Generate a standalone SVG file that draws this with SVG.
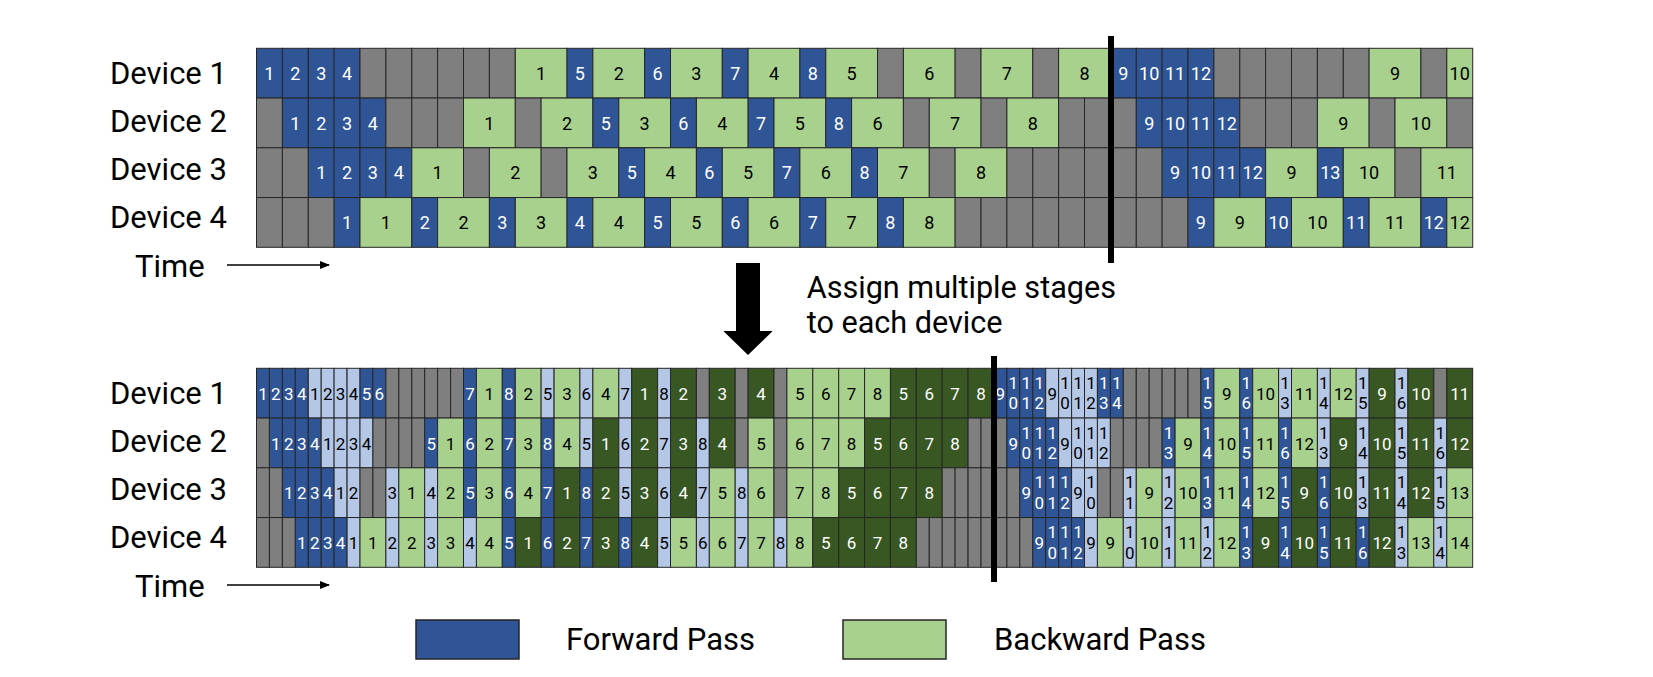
<svg xmlns="http://www.w3.org/2000/svg" width="1653" height="677" viewBox="0 0 1653 677">
<style>
text{font-family:Roboto,"Liberation Sans",sans-serif;fill:#000}
.lbl{font-size:31px}
.cap{font-size:30.6px}
.c rect{stroke:#262626;stroke-width:1}
.c text{text-anchor:middle}
.t1 text{font-size:18px}
.t2 text{font-size:17px}
.f{fill:#2F5597}
.lf{fill:#B4C7E7}
.b{fill:#A9D18E}
.lb{fill:#385723}
.g{fill:#7F7F7F}
.c text.w{fill:#fff}
.bar{fill:#000}
</style>
<defs>
<marker id="ah" markerWidth="10" markerHeight="8" refX="9" refY="4" orient="auto" markerUnits="userSpaceOnUse">
<path d="M0,0 L10,4 L0,8 Z" fill="#000"/>
</marker>
</defs>

<g id="labels-top">
<text class="lbl" x="110" y="84.3">Device 1</text>
<text class="lbl" x="110" y="132">Device 2</text>
<text class="lbl" x="110" y="180">Device 3</text>
<text class="lbl" x="110" y="228.3">Device 4</text>
<text class="lbl" x="135" y="277">Time</text>
</g>
<g id="labels-bottom">
<text class="lbl" x="110" y="404.3">Device 1</text>
<text class="lbl" x="110" y="452">Device 2</text>
<text class="lbl" x="110" y="500">Device 3</text>
<text class="lbl" x="110" y="548.3">Device 4</text>
<text class="lbl" x="135" y="597">Time</text>
</g>

<g id="top-chart" class="c t1">
<g id="top-d1" transform="translate(0,48.3)">
<rect class="f" x="256.5" width="25.9" height="49.75"/><text class="w" x="269.4" y="31.5">1</text>
<rect class="f" x="282.4" width="25.9" height="49.75"/><text class="w" x="295.3" y="31.5">2</text>
<rect class="f" x="308.3" width="25.9" height="49.75"/><text class="w" x="321.2" y="31.5">3</text>
<rect class="f" x="334.1" width="25.9" height="49.75"/><text class="w" x="347.1" y="31.5">4</text>
<rect class="g" x="360" width="25.9" height="49.75"/>
<rect class="g" x="385.9" width="25.9" height="49.75"/>
<rect class="g" x="411.8" width="25.9" height="49.75"/>
<rect class="g" x="437.6" width="25.9" height="49.75"/>
<rect class="g" x="463.5" width="25.9" height="49.75"/>
<rect class="g" x="489.4" width="25.9" height="49.75"/>
<rect class="b" x="515.3" width="51.8" height="49.75"/><text x="541.1" y="31.5">1</text>
<rect class="f" x="567" width="25.9" height="49.75"/><text class="w" x="579.9" y="31.5">5</text>
<rect class="b" x="592.9" width="51.8" height="49.75"/><text x="618.8" y="31.5">2</text>
<rect class="f" x="644.6" width="25.9" height="49.75"/><text class="w" x="657.6" y="31.5">6</text>
<rect class="b" x="670.5" width="51.8" height="49.75"/><text x="696.4" y="31.5">3</text>
<rect class="f" x="722.3" width="25.9" height="49.75"/><text class="w" x="735.2" y="31.5">7</text>
<rect class="b" x="748.1" width="51.8" height="49.75"/><text x="774" y="31.5">4</text>
<rect class="f" x="799.9" width="25.9" height="49.75"/><text class="w" x="812.8" y="31.5">8</text>
<rect class="b" x="825.8" width="51.8" height="49.75"/><text x="851.6" y="31.5">5</text>
<rect class="g" x="877.5" width="25.9" height="49.75"/>
<rect class="b" x="903.4" width="51.8" height="49.75"/><text x="929.3" y="31.5">6</text>
<rect class="g" x="955.1" width="25.9" height="49.75"/>
<rect class="b" x="981" width="51.8" height="49.75"/><text x="1006.9" y="31.5">7</text>
<rect class="g" x="1032.8" width="25.9" height="49.75"/>
<rect class="b" x="1058.6" width="51.8" height="49.75"/><text x="1084.5" y="31.5">8</text>
<rect class="f" x="1110.4" width="25.9" height="49.75"/><text class="w" x="1123.3" y="31.5">9</text>
<rect class="f" x="1136.3" width="25.9" height="49.75"/><text class="w" x="1149.2" y="31.5">10</text>
<rect class="f" x="1162.1" width="25.9" height="49.75"/><text class="w" x="1175.1" y="31.5">11</text>
<rect class="f" x="1188" width="25.9" height="49.75"/><text class="w" x="1200.9" y="31.5">12</text>
<rect class="g" x="1213.9" width="25.9" height="49.75"/>
<rect class="g" x="1239.8" width="25.9" height="49.75"/>
<rect class="g" x="1265.6" width="25.9" height="49.75"/>
<rect class="g" x="1291.5" width="25.9" height="49.75"/>
<rect class="g" x="1317.4" width="25.9" height="49.75"/>
<rect class="g" x="1343.3" width="25.9" height="49.75"/>
<rect class="b" x="1369.1" width="51.8" height="49.75"/><text x="1395" y="31.5">9</text>
<rect class="g" x="1420.9" width="25.9" height="49.75"/>
<rect class="b" x="1446.8" width="25.9" height="49.75"/><text x="1459.7" y="31.5">10</text>
</g>
<g id="top-d2" transform="translate(0,98.05)">
<rect class="g" x="256.5" width="25.9" height="49.75"/>
<rect class="f" x="282.4" width="25.9" height="49.75"/><text class="w" x="295.3" y="31.5">1</text>
<rect class="f" x="308.3" width="25.9" height="49.75"/><text class="w" x="321.2" y="31.5">2</text>
<rect class="f" x="334.1" width="25.9" height="49.75"/><text class="w" x="347.1" y="31.5">3</text>
<rect class="f" x="360" width="25.9" height="49.75"/><text class="w" x="372.9" y="31.5">4</text>
<rect class="g" x="385.9" width="25.9" height="49.75"/>
<rect class="g" x="411.8" width="25.9" height="49.75"/>
<rect class="g" x="437.6" width="25.9" height="49.75"/>
<rect class="b" x="463.5" width="51.8" height="49.75"/><text x="489.4" y="31.5">1</text>
<rect class="g" x="515.3" width="25.9" height="49.75"/>
<rect class="b" x="541.1" width="51.8" height="49.75"/><text x="567" y="31.5">2</text>
<rect class="f" x="592.9" width="25.9" height="49.75"/><text class="w" x="605.8" y="31.5">5</text>
<rect class="b" x="618.8" width="51.8" height="49.75"/><text x="644.6" y="31.5">3</text>
<rect class="f" x="670.5" width="25.9" height="49.75"/><text class="w" x="683.4" y="31.5">6</text>
<rect class="b" x="696.4" width="51.8" height="49.75"/><text x="722.3" y="31.5">4</text>
<rect class="f" x="748.1" width="25.9" height="49.75"/><text class="w" x="761.1" y="31.5">7</text>
<rect class="b" x="774" width="51.8" height="49.75"/><text x="799.9" y="31.5">5</text>
<rect class="f" x="825.8" width="25.9" height="49.75"/><text class="w" x="838.7" y="31.5">8</text>
<rect class="b" x="851.6" width="51.8" height="49.75"/><text x="877.5" y="31.5">6</text>
<rect class="g" x="903.4" width="25.9" height="49.75"/>
<rect class="b" x="929.3" width="51.8" height="49.75"/><text x="955.1" y="31.5">7</text>
<rect class="g" x="981" width="25.9" height="49.75"/>
<rect class="b" x="1006.9" width="51.8" height="49.75"/><text x="1032.8" y="31.5">8</text>
<rect class="g" x="1058.6" width="25.9" height="49.75"/>
<rect class="g" x="1084.5" width="25.9" height="49.75"/>
<rect class="g" x="1110.4" width="25.9" height="49.75"/>
<rect class="f" x="1136.3" width="25.9" height="49.75"/><text class="w" x="1149.2" y="31.5">9</text>
<rect class="f" x="1162.1" width="25.9" height="49.75"/><text class="w" x="1175.1" y="31.5">10</text>
<rect class="f" x="1188" width="25.9" height="49.75"/><text class="w" x="1200.9" y="31.5">11</text>
<rect class="f" x="1213.9" width="25.9" height="49.75"/><text class="w" x="1226.8" y="31.5">12</text>
<rect class="g" x="1239.8" width="25.9" height="49.75"/>
<rect class="g" x="1265.6" width="25.9" height="49.75"/>
<rect class="g" x="1291.5" width="25.9" height="49.75"/>
<rect class="b" x="1317.4" width="51.8" height="49.75"/><text x="1343.3" y="31.5">9</text>
<rect class="g" x="1369.1" width="25.9" height="49.75"/>
<rect class="b" x="1395" width="51.8" height="49.75"/><text x="1420.9" y="31.5">10</text>
<rect class="g" x="1446.8" width="25.9" height="49.75"/>
</g>
<g id="top-d3" transform="translate(0,147.8)">
<rect class="g" x="256.5" width="25.9" height="49.75"/>
<rect class="g" x="282.4" width="25.9" height="49.75"/>
<rect class="f" x="308.3" width="25.9" height="49.75"/><text class="w" x="321.2" y="31.5">1</text>
<rect class="f" x="334.1" width="25.9" height="49.75"/><text class="w" x="347.1" y="31.5">2</text>
<rect class="f" x="360" width="25.9" height="49.75"/><text class="w" x="372.9" y="31.5">3</text>
<rect class="f" x="385.9" width="25.9" height="49.75"/><text class="w" x="398.8" y="31.5">4</text>
<rect class="b" x="411.8" width="51.8" height="49.75"/><text x="437.6" y="31.5">1</text>
<rect class="g" x="463.5" width="25.9" height="49.75"/>
<rect class="b" x="489.4" width="51.8" height="49.75"/><text x="515.3" y="31.5">2</text>
<rect class="g" x="541.1" width="25.9" height="49.75"/>
<rect class="b" x="567" width="51.8" height="49.75"/><text x="592.9" y="31.5">3</text>
<rect class="f" x="618.8" width="25.9" height="49.75"/><text class="w" x="631.7" y="31.5">5</text>
<rect class="b" x="644.6" width="51.8" height="49.75"/><text x="670.5" y="31.5">4</text>
<rect class="f" x="696.4" width="25.9" height="49.75"/><text class="w" x="709.3" y="31.5">6</text>
<rect class="b" x="722.3" width="51.8" height="49.75"/><text x="748.1" y="31.5">5</text>
<rect class="f" x="774" width="25.9" height="49.75"/><text class="w" x="786.9" y="31.5">7</text>
<rect class="b" x="799.9" width="51.8" height="49.75"/><text x="825.8" y="31.5">6</text>
<rect class="f" x="851.6" width="25.9" height="49.75"/><text class="w" x="864.6" y="31.5">8</text>
<rect class="b" x="877.5" width="51.8" height="49.75"/><text x="903.4" y="31.5">7</text>
<rect class="g" x="929.3" width="25.9" height="49.75"/>
<rect class="b" x="955.1" width="51.8" height="49.75"/><text x="981" y="31.5">8</text>
<rect class="g" x="1006.9" width="25.9" height="49.75"/>
<rect class="g" x="1032.8" width="25.9" height="49.75"/>
<rect class="g" x="1058.6" width="25.9" height="49.75"/>
<rect class="g" x="1084.5" width="25.9" height="49.75"/>
<rect class="g" x="1110.4" width="25.9" height="49.75"/>
<rect class="g" x="1136.3" width="25.9" height="49.75"/>
<rect class="f" x="1162.1" width="25.9" height="49.75"/><text class="w" x="1175.1" y="31.5">9</text>
<rect class="f" x="1188" width="25.9" height="49.75"/><text class="w" x="1200.9" y="31.5">10</text>
<rect class="f" x="1213.9" width="25.9" height="49.75"/><text class="w" x="1226.8" y="31.5">11</text>
<rect class="f" x="1239.8" width="25.9" height="49.75"/><text class="w" x="1252.7" y="31.5">12</text>
<rect class="b" x="1265.6" width="51.8" height="49.75"/><text x="1291.5" y="31.5">9</text>
<rect class="f" x="1317.4" width="25.9" height="49.75"/><text class="w" x="1330.3" y="31.5">13</text>
<rect class="b" x="1343.3" width="51.8" height="49.75"/><text x="1369.1" y="31.5">10</text>
<rect class="g" x="1395" width="25.9" height="49.75"/>
<rect class="b" x="1420.9" width="51.8" height="49.75"/><text x="1446.8" y="31.5">11</text>
</g>
<g id="top-d4" transform="translate(0,197.55)">
<rect class="g" x="256.5" width="25.9" height="49.75"/>
<rect class="g" x="282.4" width="25.9" height="49.75"/>
<rect class="g" x="308.3" width="25.9" height="49.75"/>
<rect class="f" x="334.1" width="25.9" height="49.75"/><text class="w" x="347.1" y="31.5">1</text>
<rect class="b" x="360" width="51.8" height="49.75"/><text x="385.9" y="31.5">1</text>
<rect class="f" x="411.8" width="25.9" height="49.75"/><text class="w" x="424.7" y="31.5">2</text>
<rect class="b" x="437.6" width="51.8" height="49.75"/><text x="463.5" y="31.5">2</text>
<rect class="f" x="489.4" width="25.9" height="49.75"/><text class="w" x="502.3" y="31.5">3</text>
<rect class="b" x="515.3" width="51.8" height="49.75"/><text x="541.1" y="31.5">3</text>
<rect class="f" x="567" width="25.9" height="49.75"/><text class="w" x="579.9" y="31.5">4</text>
<rect class="b" x="592.9" width="51.8" height="49.75"/><text x="618.8" y="31.5">4</text>
<rect class="f" x="644.6" width="25.9" height="49.75"/><text class="w" x="657.6" y="31.5">5</text>
<rect class="b" x="670.5" width="51.8" height="49.75"/><text x="696.4" y="31.5">5</text>
<rect class="f" x="722.3" width="25.9" height="49.75"/><text class="w" x="735.2" y="31.5">6</text>
<rect class="b" x="748.1" width="51.8" height="49.75"/><text x="774" y="31.5">6</text>
<rect class="f" x="799.9" width="25.9" height="49.75"/><text class="w" x="812.8" y="31.5">7</text>
<rect class="b" x="825.8" width="51.8" height="49.75"/><text x="851.6" y="31.5">7</text>
<rect class="f" x="877.5" width="25.9" height="49.75"/><text class="w" x="890.4" y="31.5">8</text>
<rect class="b" x="903.4" width="51.8" height="49.75"/><text x="929.3" y="31.5">8</text>
<rect class="g" x="955.1" width="25.9" height="49.75"/>
<rect class="g" x="981" width="25.9" height="49.75"/>
<rect class="g" x="1006.9" width="25.9" height="49.75"/>
<rect class="g" x="1032.8" width="25.9" height="49.75"/>
<rect class="g" x="1058.6" width="25.9" height="49.75"/>
<rect class="g" x="1084.5" width="25.9" height="49.75"/>
<rect class="g" x="1110.4" width="25.9" height="49.75"/>
<rect class="g" x="1136.3" width="25.9" height="49.75"/>
<rect class="g" x="1162.1" width="25.9" height="49.75"/>
<rect class="f" x="1188" width="25.9" height="49.75"/><text class="w" x="1200.9" y="31.5">9</text>
<rect class="b" x="1213.9" width="51.8" height="49.75"/><text x="1239.8" y="31.5">9</text>
<rect class="f" x="1265.6" width="25.9" height="49.75"/><text class="w" x="1278.6" y="31.5">10</text>
<rect class="b" x="1291.5" width="51.8" height="49.75"/><text x="1317.4" y="31.5">10</text>
<rect class="f" x="1343.3" width="25.9" height="49.75"/><text class="w" x="1356.2" y="31.5">11</text>
<rect class="b" x="1369.1" width="51.8" height="49.75"/><text x="1395" y="31.5">11</text>
<rect class="f" x="1420.9" width="25.9" height="49.75"/><text class="w" x="1433.8" y="31.5">12</text>
<rect class="b" x="1446.8" width="25.9" height="49.75"/><text x="1459.7" y="31.5">12</text>
</g>
</g>

<g id="bottom-chart" class="c t2">
<g id="bot-d1" transform="translate(0,368.3)">
<rect class="f" x="256.5" width="12.94" height="49.75"/><text class="w" x="263" y="31.7">1</text>
<rect class="f" x="269.4" width="12.94" height="49.75"/><text class="w" x="275.9" y="31.7">2</text>
<rect class="f" x="282.4" width="12.94" height="49.75"/><text class="w" x="288.8" y="31.7">3</text>
<rect class="f" x="295.3" width="12.94" height="49.75"/><text class="w" x="301.8" y="31.7">4</text>
<rect class="lf" x="308.3" width="12.94" height="49.75"/><text x="314.7" y="31.7">1</text>
<rect class="lf" x="321.2" width="12.94" height="49.75"/><text x="327.7" y="31.7">2</text>
<rect class="lf" x="334.1" width="12.94" height="49.75"/><text x="340.6" y="31.7">3</text>
<rect class="lf" x="347.1" width="12.94" height="49.75"/><text x="353.5" y="31.7">4</text>
<rect class="f" x="360" width="12.94" height="49.75"/><text class="w" x="366.5" y="31.7">5</text>
<rect class="f" x="372.9" width="12.94" height="49.75"/><text class="w" x="379.4" y="31.7">6</text>
<rect class="g" x="385.9" width="12.94" height="49.75"/>
<rect class="g" x="398.8" width="12.94" height="49.75"/>
<rect class="g" x="411.8" width="12.94" height="49.75"/>
<rect class="g" x="424.7" width="12.94" height="49.75"/>
<rect class="g" x="437.6" width="12.94" height="49.75"/>
<rect class="g" x="450.6" width="12.94" height="49.75"/>
<rect class="f" x="463.5" width="12.94" height="49.75"/><text class="w" x="470" y="31.7">7</text>
<rect class="b" x="476.4" width="25.88" height="49.75"/><text x="489.4" y="31.7">1</text>
<rect class="f" x="502.3" width="12.94" height="49.75"/><text class="w" x="508.8" y="31.7">8</text>
<rect class="b" x="515.3" width="25.88" height="49.75"/><text x="528.2" y="31.7">2</text>
<rect class="lf" x="541.1" width="12.94" height="49.75"/><text x="547.6" y="31.7">5</text>
<rect class="b" x="554.1" width="25.88" height="49.75"/><text x="567" y="31.7">3</text>
<rect class="lf" x="579.9" width="12.94" height="49.75"/><text x="586.4" y="31.7">6</text>
<rect class="b" x="592.9" width="25.88" height="49.75"/><text x="605.8" y="31.7">4</text>
<rect class="lf" x="618.8" width="12.94" height="49.75"/><text x="625.2" y="31.7">7</text>
<rect class="lb" x="631.7" width="25.88" height="49.75"/><text class="w" x="644.6" y="31.7">1</text>
<rect class="lf" x="657.6" width="12.94" height="49.75"/><text x="664" y="31.7">8</text>
<rect class="lb" x="670.5" width="25.88" height="49.75"/><text class="w" x="683.4" y="31.7">2</text>
<rect class="g" x="696.4" width="12.94" height="49.75"/>
<rect class="lb" x="709.3" width="25.88" height="49.75"/><text class="w" x="722.3" y="31.7">3</text>
<rect class="g" x="735.2" width="12.94" height="49.75"/>
<rect class="lb" x="748.1" width="25.88" height="49.75"/><text class="w" x="761.1" y="31.7">4</text>
<rect class="g" x="774" width="12.94" height="49.75"/>
<rect class="b" x="786.9" width="25.88" height="49.75"/><text x="799.9" y="31.7">5</text>
<rect class="b" x="812.8" width="25.88" height="49.75"/><text x="825.8" y="31.7">6</text>
<rect class="b" x="838.7" width="25.88" height="49.75"/><text x="851.6" y="31.7">7</text>
<rect class="b" x="864.6" width="25.88" height="49.75"/><text x="877.5" y="31.7">8</text>
<rect class="lb" x="890.4" width="25.88" height="49.75"/><text class="w" x="903.4" y="31.7">5</text>
<rect class="lb" x="916.3" width="25.88" height="49.75"/><text class="w" x="929.3" y="31.7">6</text>
<rect class="lb" x="942.2" width="25.88" height="49.75"/><text class="w" x="955.1" y="31.7">7</text>
<rect class="lb" x="968.1" width="25.88" height="49.75"/><text class="w" x="981" y="31.7">8</text>
<rect class="f" x="993.9" width="12.94" height="49.75"/><text class="w" x="1000.4" y="31.7">9</text>
<rect class="f" x="1006.9" width="12.94" height="49.75"/><text class="w" x="1013.3" y="20.5">1</text><text class="w" x="1013.3" y="41.2">0</text>
<rect class="f" x="1019.8" width="12.94" height="49.75"/><text class="w" x="1026.3" y="20.5">1</text><text class="w" x="1026.3" y="41.2">1</text>
<rect class="f" x="1032.8" width="12.94" height="49.75"/><text class="w" x="1039.2" y="20.5">1</text><text class="w" x="1039.2" y="41.2">2</text>
<rect class="lf" x="1045.7" width="12.94" height="49.75"/><text x="1052.2" y="31.7">9</text>
<rect class="lf" x="1058.6" width="12.94" height="49.75"/><text x="1065.1" y="20.5">1</text><text x="1065.1" y="41.2">0</text>
<rect class="lf" x="1071.6" width="12.94" height="49.75"/><text x="1078" y="20.5">1</text><text x="1078" y="41.2">1</text>
<rect class="lf" x="1084.5" width="12.94" height="49.75"/><text x="1091" y="20.5">1</text><text x="1091" y="41.2">2</text>
<rect class="f" x="1097.4" width="12.94" height="49.75"/><text class="w" x="1103.9" y="20.5">1</text><text class="w" x="1103.9" y="41.2">3</text>
<rect class="f" x="1110.4" width="12.94" height="49.75"/><text class="w" x="1116.8" y="20.5">1</text><text class="w" x="1116.8" y="41.2">4</text>
<rect class="g" x="1123.3" width="12.94" height="49.75"/>
<rect class="g" x="1136.3" width="12.94" height="49.75"/>
<rect class="g" x="1149.2" width="12.94" height="49.75"/>
<rect class="g" x="1162.1" width="12.94" height="49.75"/>
<rect class="g" x="1175.1" width="12.94" height="49.75"/>
<rect class="g" x="1188" width="12.94" height="49.75"/>
<rect class="f" x="1200.9" width="12.94" height="49.75"/><text class="w" x="1207.4" y="20.5">1</text><text class="w" x="1207.4" y="41.2">5</text>
<rect class="b" x="1213.9" width="25.88" height="49.75"/><text x="1226.8" y="31.7">9</text>
<rect class="f" x="1239.8" width="12.94" height="49.75"/><text class="w" x="1246.2" y="20.5">1</text><text class="w" x="1246.2" y="41.2">6</text>
<rect class="b" x="1252.7" width="25.88" height="49.75"/><text x="1265.6" y="31.7">10</text>
<rect class="lf" x="1278.6" width="12.94" height="49.75"/><text x="1285" y="20.5">1</text><text x="1285" y="41.2">3</text>
<rect class="b" x="1291.5" width="25.88" height="49.75"/><text x="1304.4" y="31.7">11</text>
<rect class="lf" x="1317.4" width="12.94" height="49.75"/><text x="1323.8" y="20.5">1</text><text x="1323.8" y="41.2">4</text>
<rect class="b" x="1330.3" width="25.88" height="49.75"/><text x="1343.3" y="31.7">12</text>
<rect class="lf" x="1356.2" width="12.94" height="49.75"/><text x="1362.7" y="20.5">1</text><text x="1362.7" y="41.2">5</text>
<rect class="lb" x="1369.1" width="25.88" height="49.75"/><text class="w" x="1382.1" y="31.7">9</text>
<rect class="lf" x="1395" width="12.94" height="49.75"/><text x="1401.5" y="20.5">1</text><text x="1401.5" y="41.2">6</text>
<rect class="lb" x="1407.9" width="25.88" height="49.75"/><text class="w" x="1420.9" y="31.7">10</text>
<rect class="g" x="1433.8" width="12.94" height="49.75"/>
<rect class="lb" x="1446.8" width="25.88" height="49.75"/><text class="w" x="1459.7" y="31.7">11</text>
</g>
<g id="bot-d2" transform="translate(0,418.05)">
<rect class="g" x="256.5" width="12.94" height="49.75"/>
<rect class="f" x="269.4" width="12.94" height="49.75"/><text class="w" x="275.9" y="31.7">1</text>
<rect class="f" x="282.4" width="12.94" height="49.75"/><text class="w" x="288.8" y="31.7">2</text>
<rect class="f" x="295.3" width="12.94" height="49.75"/><text class="w" x="301.8" y="31.7">3</text>
<rect class="f" x="308.3" width="12.94" height="49.75"/><text class="w" x="314.7" y="31.7">4</text>
<rect class="lf" x="321.2" width="12.94" height="49.75"/><text x="327.7" y="31.7">1</text>
<rect class="lf" x="334.1" width="12.94" height="49.75"/><text x="340.6" y="31.7">2</text>
<rect class="lf" x="347.1" width="12.94" height="49.75"/><text x="353.5" y="31.7">3</text>
<rect class="lf" x="360" width="12.94" height="49.75"/><text x="366.5" y="31.7">4</text>
<rect class="g" x="372.9" width="12.94" height="49.75"/>
<rect class="g" x="385.9" width="12.94" height="49.75"/>
<rect class="g" x="398.8" width="12.94" height="49.75"/>
<rect class="g" x="411.8" width="12.94" height="49.75"/>
<rect class="f" x="424.7" width="12.94" height="49.75"/><text class="w" x="431.2" y="31.7">5</text>
<rect class="b" x="437.6" width="25.88" height="49.75"/><text x="450.6" y="31.7">1</text>
<rect class="f" x="463.5" width="12.94" height="49.75"/><text class="w" x="470" y="31.7">6</text>
<rect class="b" x="476.4" width="25.88" height="49.75"/><text x="489.4" y="31.7">2</text>
<rect class="f" x="502.3" width="12.94" height="49.75"/><text class="w" x="508.8" y="31.7">7</text>
<rect class="b" x="515.3" width="25.88" height="49.75"/><text x="528.2" y="31.7">3</text>
<rect class="f" x="541.1" width="12.94" height="49.75"/><text class="w" x="547.6" y="31.7">8</text>
<rect class="b" x="554.1" width="25.88" height="49.75"/><text x="567" y="31.7">4</text>
<rect class="lf" x="579.9" width="12.94" height="49.75"/><text x="586.4" y="31.7">5</text>
<rect class="lb" x="592.9" width="25.88" height="49.75"/><text class="w" x="605.8" y="31.7">1</text>
<rect class="lf" x="618.8" width="12.94" height="49.75"/><text x="625.2" y="31.7">6</text>
<rect class="lb" x="631.7" width="25.88" height="49.75"/><text class="w" x="644.6" y="31.7">2</text>
<rect class="lf" x="657.6" width="12.94" height="49.75"/><text x="664" y="31.7">7</text>
<rect class="lb" x="670.5" width="25.88" height="49.75"/><text class="w" x="683.4" y="31.7">3</text>
<rect class="lf" x="696.4" width="12.94" height="49.75"/><text x="702.8" y="31.7">8</text>
<rect class="lb" x="709.3" width="25.88" height="49.75"/><text class="w" x="722.3" y="31.7">4</text>
<rect class="g" x="735.2" width="12.94" height="49.75"/>
<rect class="b" x="748.1" width="25.88" height="49.75"/><text x="761.1" y="31.7">5</text>
<rect class="g" x="774" width="12.94" height="49.75"/>
<rect class="b" x="786.9" width="25.88" height="49.75"/><text x="799.9" y="31.7">6</text>
<rect class="b" x="812.8" width="25.88" height="49.75"/><text x="825.8" y="31.7">7</text>
<rect class="b" x="838.7" width="25.88" height="49.75"/><text x="851.6" y="31.7">8</text>
<rect class="lb" x="864.6" width="25.88" height="49.75"/><text class="w" x="877.5" y="31.7">5</text>
<rect class="lb" x="890.4" width="25.88" height="49.75"/><text class="w" x="903.4" y="31.7">6</text>
<rect class="lb" x="916.3" width="25.88" height="49.75"/><text class="w" x="929.3" y="31.7">7</text>
<rect class="lb" x="942.2" width="25.88" height="49.75"/><text class="w" x="955.1" y="31.7">8</text>
<rect class="g" x="968.1" width="12.94" height="49.75"/>
<rect class="g" x="981" width="12.94" height="49.75"/>
<rect class="g" x="993.9" width="12.94" height="49.75"/>
<rect class="f" x="1006.9" width="12.94" height="49.75"/><text class="w" x="1013.3" y="31.7">9</text>
<rect class="f" x="1019.8" width="12.94" height="49.75"/><text class="w" x="1026.3" y="20.5">1</text><text class="w" x="1026.3" y="41.2">0</text>
<rect class="f" x="1032.8" width="12.94" height="49.75"/><text class="w" x="1039.2" y="20.5">1</text><text class="w" x="1039.2" y="41.2">1</text>
<rect class="f" x="1045.7" width="12.94" height="49.75"/><text class="w" x="1052.2" y="20.5">1</text><text class="w" x="1052.2" y="41.2">2</text>
<rect class="lf" x="1058.6" width="12.94" height="49.75"/><text x="1065.1" y="31.7">9</text>
<rect class="lf" x="1071.6" width="12.94" height="49.75"/><text x="1078" y="20.5">1</text><text x="1078" y="41.2">0</text>
<rect class="lf" x="1084.5" width="12.94" height="49.75"/><text x="1091" y="20.5">1</text><text x="1091" y="41.2">1</text>
<rect class="lf" x="1097.4" width="12.94" height="49.75"/><text x="1103.9" y="20.5">1</text><text x="1103.9" y="41.2">2</text>
<rect class="g" x="1110.4" width="12.94" height="49.75"/>
<rect class="g" x="1123.3" width="12.94" height="49.75"/>
<rect class="g" x="1136.3" width="12.94" height="49.75"/>
<rect class="g" x="1149.2" width="12.94" height="49.75"/>
<rect class="f" x="1162.1" width="12.94" height="49.75"/><text class="w" x="1168.6" y="20.5">1</text><text class="w" x="1168.6" y="41.2">3</text>
<rect class="b" x="1175.1" width="25.88" height="49.75"/><text x="1188" y="31.7">9</text>
<rect class="f" x="1200.9" width="12.94" height="49.75"/><text class="w" x="1207.4" y="20.5">1</text><text class="w" x="1207.4" y="41.2">4</text>
<rect class="b" x="1213.9" width="25.88" height="49.75"/><text x="1226.8" y="31.7">10</text>
<rect class="f" x="1239.8" width="12.94" height="49.75"/><text class="w" x="1246.2" y="20.5">1</text><text class="w" x="1246.2" y="41.2">5</text>
<rect class="b" x="1252.7" width="25.88" height="49.75"/><text x="1265.6" y="31.7">11</text>
<rect class="f" x="1278.6" width="12.94" height="49.75"/><text class="w" x="1285" y="20.5">1</text><text class="w" x="1285" y="41.2">6</text>
<rect class="b" x="1291.5" width="25.88" height="49.75"/><text x="1304.4" y="31.7">12</text>
<rect class="lf" x="1317.4" width="12.94" height="49.75"/><text x="1323.8" y="20.5">1</text><text x="1323.8" y="41.2">3</text>
<rect class="lb" x="1330.3" width="25.88" height="49.75"/><text class="w" x="1343.3" y="31.7">9</text>
<rect class="lf" x="1356.2" width="12.94" height="49.75"/><text x="1362.7" y="20.5">1</text><text x="1362.7" y="41.2">4</text>
<rect class="lb" x="1369.1" width="25.88" height="49.75"/><text class="w" x="1382.1" y="31.7">10</text>
<rect class="lf" x="1395" width="12.94" height="49.75"/><text x="1401.5" y="20.5">1</text><text x="1401.5" y="41.2">5</text>
<rect class="lb" x="1407.9" width="25.88" height="49.75"/><text class="w" x="1420.9" y="31.7">11</text>
<rect class="lf" x="1433.8" width="12.94" height="49.75"/><text x="1440.3" y="20.5">1</text><text x="1440.3" y="41.2">6</text>
<rect class="lb" x="1446.8" width="25.88" height="49.75"/><text class="w" x="1459.7" y="31.7">12</text>
</g>
<g id="bot-d3" transform="translate(0,467.8)">
<rect class="g" x="256.5" width="12.94" height="49.75"/>
<rect class="g" x="269.4" width="12.94" height="49.75"/>
<rect class="f" x="282.4" width="12.94" height="49.75"/><text class="w" x="288.8" y="31.7">1</text>
<rect class="f" x="295.3" width="12.94" height="49.75"/><text class="w" x="301.8" y="31.7">2</text>
<rect class="f" x="308.3" width="12.94" height="49.75"/><text class="w" x="314.7" y="31.7">3</text>
<rect class="f" x="321.2" width="12.94" height="49.75"/><text class="w" x="327.7" y="31.7">4</text>
<rect class="lf" x="334.1" width="12.94" height="49.75"/><text x="340.6" y="31.7">1</text>
<rect class="lf" x="347.1" width="12.94" height="49.75"/><text x="353.5" y="31.7">2</text>
<rect class="g" x="360" width="12.94" height="49.75"/>
<rect class="g" x="372.9" width="12.94" height="49.75"/>
<rect class="lf" x="385.9" width="12.94" height="49.75"/><text x="392.3" y="31.7">3</text>
<rect class="b" x="398.8" width="25.88" height="49.75"/><text x="411.8" y="31.7">1</text>
<rect class="lf" x="424.7" width="12.94" height="49.75"/><text x="431.2" y="31.7">4</text>
<rect class="b" x="437.6" width="25.88" height="49.75"/><text x="450.6" y="31.7">2</text>
<rect class="f" x="463.5" width="12.94" height="49.75"/><text class="w" x="470" y="31.7">5</text>
<rect class="b" x="476.4" width="25.88" height="49.75"/><text x="489.4" y="31.7">3</text>
<rect class="f" x="502.3" width="12.94" height="49.75"/><text class="w" x="508.8" y="31.7">6</text>
<rect class="b" x="515.3" width="25.88" height="49.75"/><text x="528.2" y="31.7">4</text>
<rect class="f" x="541.1" width="12.94" height="49.75"/><text class="w" x="547.6" y="31.7">7</text>
<rect class="lb" x="554.1" width="25.88" height="49.75"/><text class="w" x="567" y="31.7">1</text>
<rect class="f" x="579.9" width="12.94" height="49.75"/><text class="w" x="586.4" y="31.7">8</text>
<rect class="lb" x="592.9" width="25.88" height="49.75"/><text class="w" x="605.8" y="31.7">2</text>
<rect class="lf" x="618.8" width="12.94" height="49.75"/><text x="625.2" y="31.7">5</text>
<rect class="lb" x="631.7" width="25.88" height="49.75"/><text class="w" x="644.6" y="31.7">3</text>
<rect class="lf" x="657.6" width="12.94" height="49.75"/><text x="664" y="31.7">6</text>
<rect class="lb" x="670.5" width="25.88" height="49.75"/><text class="w" x="683.4" y="31.7">4</text>
<rect class="lf" x="696.4" width="12.94" height="49.75"/><text x="702.8" y="31.7">7</text>
<rect class="b" x="709.3" width="25.88" height="49.75"/><text x="722.3" y="31.7">5</text>
<rect class="lf" x="735.2" width="12.94" height="49.75"/><text x="741.7" y="31.7">8</text>
<rect class="b" x="748.1" width="25.88" height="49.75"/><text x="761.1" y="31.7">6</text>
<rect class="g" x="774" width="12.94" height="49.75"/>
<rect class="b" x="786.9" width="25.88" height="49.75"/><text x="799.9" y="31.7">7</text>
<rect class="b" x="812.8" width="25.88" height="49.75"/><text x="825.8" y="31.7">8</text>
<rect class="lb" x="838.7" width="25.88" height="49.75"/><text class="w" x="851.6" y="31.7">5</text>
<rect class="lb" x="864.6" width="25.88" height="49.75"/><text class="w" x="877.5" y="31.7">6</text>
<rect class="lb" x="890.4" width="25.88" height="49.75"/><text class="w" x="903.4" y="31.7">7</text>
<rect class="lb" x="916.3" width="25.88" height="49.75"/><text class="w" x="929.3" y="31.7">8</text>
<rect class="g" x="942.2" width="12.94" height="49.75"/>
<rect class="g" x="955.1" width="12.94" height="49.75"/>
<rect class="g" x="968.1" width="12.94" height="49.75"/>
<rect class="g" x="981" width="12.94" height="49.75"/>
<rect class="g" x="993.9" width="12.94" height="49.75"/>
<rect class="g" x="1006.9" width="12.94" height="49.75"/>
<rect class="f" x="1019.8" width="12.94" height="49.75"/><text class="w" x="1026.3" y="31.7">9</text>
<rect class="f" x="1032.8" width="12.94" height="49.75"/><text class="w" x="1039.2" y="20.5">1</text><text class="w" x="1039.2" y="41.2">0</text>
<rect class="f" x="1045.7" width="12.94" height="49.75"/><text class="w" x="1052.2" y="20.5">1</text><text class="w" x="1052.2" y="41.2">1</text>
<rect class="f" x="1058.6" width="12.94" height="49.75"/><text class="w" x="1065.1" y="20.5">1</text><text class="w" x="1065.1" y="41.2">2</text>
<rect class="lf" x="1071.6" width="12.94" height="49.75"/><text x="1078" y="31.7">9</text>
<rect class="lf" x="1084.5" width="12.94" height="49.75"/><text x="1091" y="20.5">1</text><text x="1091" y="41.2">0</text>
<rect class="g" x="1097.4" width="12.94" height="49.75"/>
<rect class="g" x="1110.4" width="12.94" height="49.75"/>
<rect class="lf" x="1123.3" width="12.94" height="49.75"/><text x="1129.8" y="20.5">1</text><text x="1129.8" y="41.2">1</text>
<rect class="b" x="1136.3" width="25.88" height="49.75"/><text x="1149.2" y="31.7">9</text>
<rect class="lf" x="1162.1" width="12.94" height="49.75"/><text x="1168.6" y="20.5">1</text><text x="1168.6" y="41.2">2</text>
<rect class="b" x="1175.1" width="25.88" height="49.75"/><text x="1188" y="31.7">10</text>
<rect class="f" x="1200.9" width="12.94" height="49.75"/><text class="w" x="1207.4" y="20.5">1</text><text class="w" x="1207.4" y="41.2">3</text>
<rect class="b" x="1213.9" width="25.88" height="49.75"/><text x="1226.8" y="31.7">11</text>
<rect class="f" x="1239.8" width="12.94" height="49.75"/><text class="w" x="1246.2" y="20.5">1</text><text class="w" x="1246.2" y="41.2">4</text>
<rect class="b" x="1252.7" width="25.88" height="49.75"/><text x="1265.6" y="31.7">12</text>
<rect class="f" x="1278.6" width="12.94" height="49.75"/><text class="w" x="1285" y="20.5">1</text><text class="w" x="1285" y="41.2">5</text>
<rect class="lb" x="1291.5" width="25.88" height="49.75"/><text class="w" x="1304.4" y="31.7">9</text>
<rect class="f" x="1317.4" width="12.94" height="49.75"/><text class="w" x="1323.8" y="20.5">1</text><text class="w" x="1323.8" y="41.2">6</text>
<rect class="lb" x="1330.3" width="25.88" height="49.75"/><text class="w" x="1343.3" y="31.7">10</text>
<rect class="lf" x="1356.2" width="12.94" height="49.75"/><text x="1362.7" y="20.5">1</text><text x="1362.7" y="41.2">3</text>
<rect class="lb" x="1369.1" width="25.88" height="49.75"/><text class="w" x="1382.1" y="31.7">11</text>
<rect class="lf" x="1395" width="12.94" height="49.75"/><text x="1401.5" y="20.5">1</text><text x="1401.5" y="41.2">4</text>
<rect class="lb" x="1407.9" width="25.88" height="49.75"/><text class="w" x="1420.9" y="31.7">12</text>
<rect class="lf" x="1433.8" width="12.94" height="49.75"/><text x="1440.3" y="20.5">1</text><text x="1440.3" y="41.2">5</text>
<rect class="b" x="1446.8" width="25.88" height="49.75"/><text x="1459.7" y="31.7">13</text>
</g>
<g id="bot-d4" transform="translate(0,517.55)">
<rect class="g" x="256.5" width="12.94" height="49.75"/>
<rect class="g" x="269.4" width="12.94" height="49.75"/>
<rect class="g" x="282.4" width="12.94" height="49.75"/>
<rect class="f" x="295.3" width="12.94" height="49.75"/><text class="w" x="301.8" y="31.7">1</text>
<rect class="f" x="308.3" width="12.94" height="49.75"/><text class="w" x="314.7" y="31.7">2</text>
<rect class="f" x="321.2" width="12.94" height="49.75"/><text class="w" x="327.7" y="31.7">3</text>
<rect class="f" x="334.1" width="12.94" height="49.75"/><text class="w" x="340.6" y="31.7">4</text>
<rect class="lf" x="347.1" width="12.94" height="49.75"/><text x="353.5" y="31.7">1</text>
<rect class="b" x="360" width="25.88" height="49.75"/><text x="372.9" y="31.7">1</text>
<rect class="lf" x="385.9" width="12.94" height="49.75"/><text x="392.3" y="31.7">2</text>
<rect class="b" x="398.8" width="25.88" height="49.75"/><text x="411.8" y="31.7">2</text>
<rect class="lf" x="424.7" width="12.94" height="49.75"/><text x="431.2" y="31.7">3</text>
<rect class="b" x="437.6" width="25.88" height="49.75"/><text x="450.6" y="31.7">3</text>
<rect class="lf" x="463.5" width="12.94" height="49.75"/><text x="470" y="31.7">4</text>
<rect class="b" x="476.4" width="25.88" height="49.75"/><text x="489.4" y="31.7">4</text>
<rect class="f" x="502.3" width="12.94" height="49.75"/><text class="w" x="508.8" y="31.7">5</text>
<rect class="lb" x="515.3" width="25.88" height="49.75"/><text class="w" x="528.2" y="31.7">1</text>
<rect class="f" x="541.1" width="12.94" height="49.75"/><text class="w" x="547.6" y="31.7">6</text>
<rect class="lb" x="554.1" width="25.88" height="49.75"/><text class="w" x="567" y="31.7">2</text>
<rect class="f" x="579.9" width="12.94" height="49.75"/><text class="w" x="586.4" y="31.7">7</text>
<rect class="lb" x="592.9" width="25.88" height="49.75"/><text class="w" x="605.8" y="31.7">3</text>
<rect class="f" x="618.8" width="12.94" height="49.75"/><text class="w" x="625.2" y="31.7">8</text>
<rect class="lb" x="631.7" width="25.88" height="49.75"/><text class="w" x="644.6" y="31.7">4</text>
<rect class="lf" x="657.6" width="12.94" height="49.75"/><text x="664" y="31.7">5</text>
<rect class="b" x="670.5" width="25.88" height="49.75"/><text x="683.4" y="31.7">5</text>
<rect class="lf" x="696.4" width="12.94" height="49.75"/><text x="702.8" y="31.7">6</text>
<rect class="b" x="709.3" width="25.88" height="49.75"/><text x="722.3" y="31.7">6</text>
<rect class="lf" x="735.2" width="12.94" height="49.75"/><text x="741.7" y="31.7">7</text>
<rect class="b" x="748.1" width="25.88" height="49.75"/><text x="761.1" y="31.7">7</text>
<rect class="lf" x="774" width="12.94" height="49.75"/><text x="780.5" y="31.7">8</text>
<rect class="b" x="786.9" width="25.88" height="49.75"/><text x="799.9" y="31.7">8</text>
<rect class="lb" x="812.8" width="25.88" height="49.75"/><text class="w" x="825.8" y="31.7">5</text>
<rect class="lb" x="838.7" width="25.88" height="49.75"/><text class="w" x="851.6" y="31.7">6</text>
<rect class="lb" x="864.6" width="25.88" height="49.75"/><text class="w" x="877.5" y="31.7">7</text>
<rect class="lb" x="890.4" width="25.88" height="49.75"/><text class="w" x="903.4" y="31.7">8</text>
<rect class="g" x="916.3" width="12.94" height="49.75"/>
<rect class="g" x="929.3" width="12.94" height="49.75"/>
<rect class="g" x="942.2" width="12.94" height="49.75"/>
<rect class="g" x="955.1" width="12.94" height="49.75"/>
<rect class="g" x="968.1" width="12.94" height="49.75"/>
<rect class="g" x="981" width="12.94" height="49.75"/>
<rect class="g" x="993.9" width="12.94" height="49.75"/>
<rect class="g" x="1006.9" width="12.94" height="49.75"/>
<rect class="g" x="1019.8" width="12.94" height="49.75"/>
<rect class="f" x="1032.8" width="12.94" height="49.75"/><text class="w" x="1039.2" y="31.7">9</text>
<rect class="f" x="1045.7" width="12.94" height="49.75"/><text class="w" x="1052.2" y="20.5">1</text><text class="w" x="1052.2" y="41.2">0</text>
<rect class="f" x="1058.6" width="12.94" height="49.75"/><text class="w" x="1065.1" y="20.5">1</text><text class="w" x="1065.1" y="41.2">1</text>
<rect class="f" x="1071.6" width="12.94" height="49.75"/><text class="w" x="1078" y="20.5">1</text><text class="w" x="1078" y="41.2">2</text>
<rect class="lf" x="1084.5" width="12.94" height="49.75"/><text x="1091" y="31.7">9</text>
<rect class="b" x="1097.4" width="25.88" height="49.75"/><text x="1110.4" y="31.7">9</text>
<rect class="lf" x="1123.3" width="12.94" height="49.75"/><text x="1129.8" y="20.5">1</text><text x="1129.8" y="41.2">0</text>
<rect class="b" x="1136.3" width="25.88" height="49.75"/><text x="1149.2" y="31.7">10</text>
<rect class="lf" x="1162.1" width="12.94" height="49.75"/><text x="1168.6" y="20.5">1</text><text x="1168.6" y="41.2">1</text>
<rect class="b" x="1175.1" width="25.88" height="49.75"/><text x="1188" y="31.7">11</text>
<rect class="lf" x="1200.9" width="12.94" height="49.75"/><text x="1207.4" y="20.5">1</text><text x="1207.4" y="41.2">2</text>
<rect class="b" x="1213.9" width="25.88" height="49.75"/><text x="1226.8" y="31.7">12</text>
<rect class="f" x="1239.8" width="12.94" height="49.75"/><text class="w" x="1246.2" y="20.5">1</text><text class="w" x="1246.2" y="41.2">3</text>
<rect class="lb" x="1252.7" width="25.88" height="49.75"/><text class="w" x="1265.6" y="31.7">9</text>
<rect class="f" x="1278.6" width="12.94" height="49.75"/><text class="w" x="1285" y="20.5">1</text><text class="w" x="1285" y="41.2">4</text>
<rect class="lb" x="1291.5" width="25.88" height="49.75"/><text class="w" x="1304.4" y="31.7">10</text>
<rect class="f" x="1317.4" width="12.94" height="49.75"/><text class="w" x="1323.8" y="20.5">1</text><text class="w" x="1323.8" y="41.2">5</text>
<rect class="lb" x="1330.3" width="25.88" height="49.75"/><text class="w" x="1343.3" y="31.7">11</text>
<rect class="f" x="1356.2" width="12.94" height="49.75"/><text class="w" x="1362.7" y="20.5">1</text><text class="w" x="1362.7" y="41.2">6</text>
<rect class="lb" x="1369.1" width="25.88" height="49.75"/><text class="w" x="1382.1" y="31.7">12</text>
<rect class="lf" x="1395" width="12.94" height="49.75"/><text x="1401.5" y="20.5">1</text><text x="1401.5" y="41.2">3</text>
<rect class="b" x="1407.9" width="25.88" height="49.75"/><text x="1420.9" y="31.7">13</text>
<rect class="lf" x="1433.8" width="12.94" height="49.75"/><text x="1440.3" y="20.5">1</text><text x="1440.3" y="41.2">4</text>
<rect class="b" x="1446.8" width="25.88" height="49.75"/><text x="1459.7" y="31.7">14</text>
</g>
</g>

<g id="bars">
<rect class="bar" x="1108" y="36" width="6" height="227"/>
<rect class="bar" x="991" y="356" width="6" height="226"/>
</g>

<g id="connectors">
<line x1="227" y1="265" x2="329" y2="265" stroke="#000" stroke-width="1.6" marker-end="url(#ah)"/>
<line x1="227" y1="585" x2="329" y2="585" stroke="#000" stroke-width="1.6" marker-end="url(#ah)"/>
<polygon points="736,263 760,263 760,331 772.7,331 748,355 723.3,331 736,331" fill="#000"/>
</g>

<g id="caption">
<text class="cap" x="806.7" y="298.3">Assign multiple stages</text>
<text class="cap" x="806.7" y="333.3">to each device</text>
</g>

<g id="legend">
<g id="legend-forward">
<rect x="416" y="620" width="103" height="39" fill="#2F5597" stroke="#262626" stroke-width="1.5"/>
<text class="lbl" x="566" y="650">Forward Pass</text>
</g>
<g id="legend-backward">
<rect x="843" y="620" width="103" height="39" fill="#A9D18E" stroke="#262626" stroke-width="1.5"/>
<text class="lbl" x="994" y="650">Backward Pass</text>
</g>
</g>
</svg>
